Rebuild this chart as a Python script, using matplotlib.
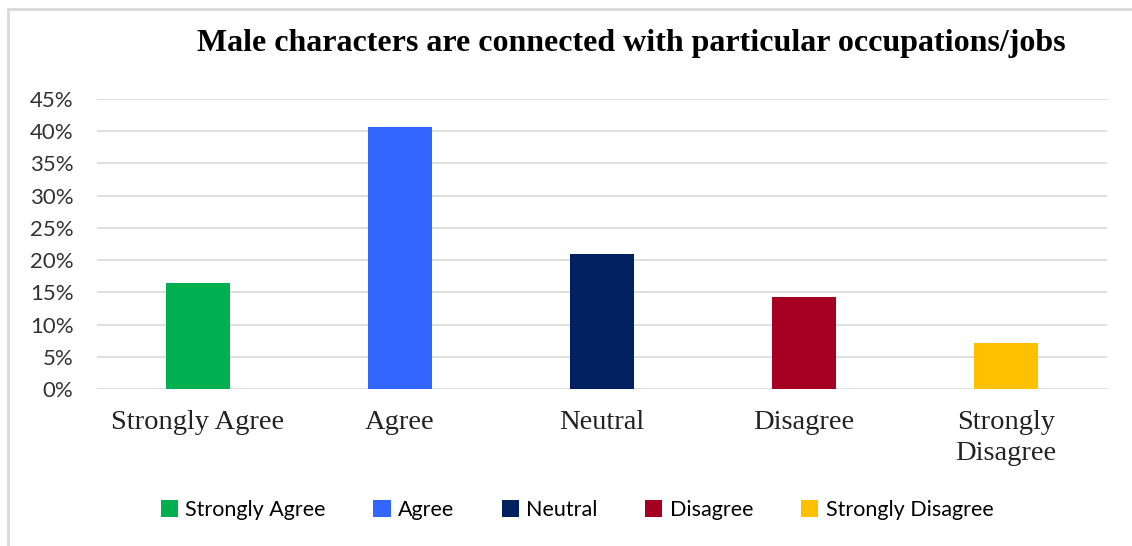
import numpy as np
import matplotlib.pyplot as plt
from matplotlib.lines import Line2D
from matplotlib.patches import Patch
from matplotlib.ticker import MultipleLocator, FuncFormatter

# Survey responses
CATEGORIES = ['Strongly Agree', 'Agree', 'Neutral', 'Disagree', 'Strongly Disagree']
TICK_LABELS = ['Strongly Agree', 'Agree', 'Neutral', 'Disagree', 'Strongly\nDisagree']
SHARES = [0.165, 0.407, 0.210, 0.143, 0.072]
COLORS = ['#00b050', '#3366ff', '#002060', '#a50021', '#ffc000']
TITLE = 'Male characters are connected with particular occupations/jobs'

W, H = 1132, 546
DPI = 100
GRID_COLOR = '#d9d9d9'
SERIF = 'Liberation Serif'
SANS = 'Lato'

fig = plt.figure(figsize=(W / DPI, H / DPI), dpi=DPI)
ax = fig.add_axes([97 / W, 1 - 389 / H, (1107 - 97) / W, (389 - 99) / H])

x = np.arange(len(CATEGORIES))
ax.bar(x, SHARES, width=0.32, color=COLORS, zorder=3)

ax.set_xlim(-0.5, len(CATEGORIES) - 0.5)
ax.set_ylim(0, 0.45)
ax.yaxis.set_major_locator(MultipleLocator(0.05))
ax.yaxis.set_major_formatter(FuncFormatter(lambda v, _: f'{v * 100:.0f}%'))
ax.grid(axis='y', color=GRID_COLOR, linewidth=1.2, zorder=0)

ax.set_xticks(x)
ax.set_xticklabels(TICK_LABELS, fontfamily=SERIF, fontsize=20.5,
                   linespacing=1.32, va='top')
ax.tick_params(axis='x', length=0, pad=15, colors='#222222')
ax.tick_params(axis='y', length=0, pad=17, labelsize=16, colors='#333333')
for lbl in ax.get_yticklabels():
    lbl.set_fontfamily(SANS)

for spine in ax.spines.values():
    spine.set_visible(False)

fig.text(631 / W, 1 - 44 / H, TITLE, ha='center', va='center',
         fontfamily=SERIF, fontweight='bold', fontsize=23)

handles = [Patch(facecolor=c, edgecolor='none') for c in COLORS]
fig.legend(handles, CATEGORIES, loc='center', bbox_to_anchor=(577 / W, 1 - 510 / H),
           ncol=5, frameon=False, handlelength=0.8, handleheight=0.8,
           handletextpad=0.35, columnspacing=2.2,
           prop={'family': SANS, 'size': 15.5})

# Outer chart frame (top and left edges)
fig.add_artist(Line2D([8 / W, 1], [1 - 9 / H, 1 - 9 / H], color=GRID_COLOR, linewidth=2))
fig.add_artist(Line2D([8 / W, 8 / W], [0, 1 - 9 / H], color=GRID_COLOR, linewidth=2))

fig.savefig('out.png', dpi=DPI, facecolor='white')
